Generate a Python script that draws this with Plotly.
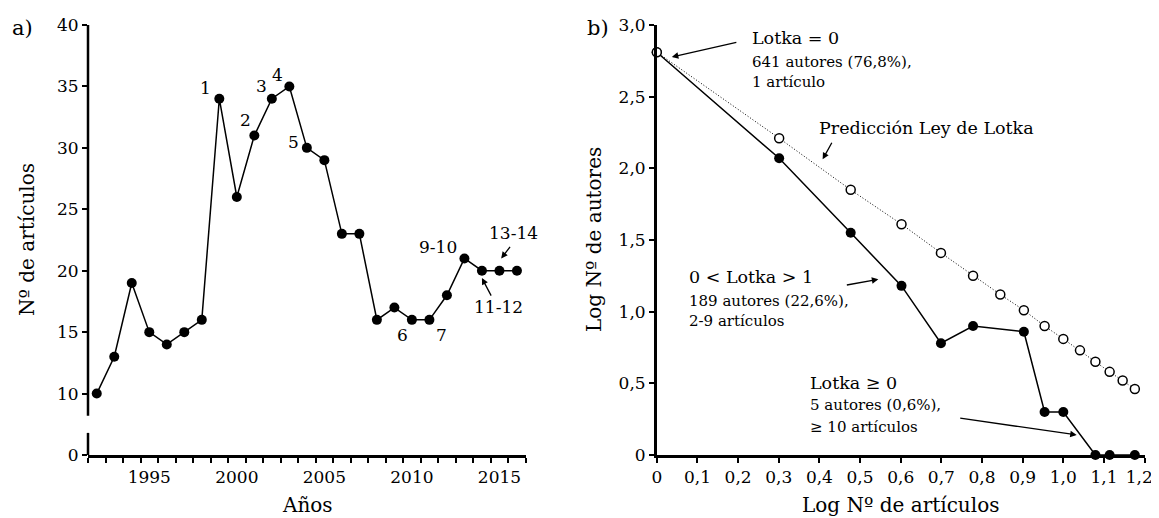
import plotly.graph_objects as go

# ---------------- data: panel a) ----------------
years = list(range(1992, 2017))
articles = [10, 13, 19, 15, 14, 15, 16, 34, 26, 31, 34, 35, 30, 29, 23, 23,
            16, 17, 16, 16, 18, 21, 20, 20, 20]
a_xticks = [1995, 2000, 2005, 2010, 2015]
a_yticks = [5, 10, 15, 20, 25, 30, 35, 40]
a_yticktext = ["0", "10", "15", "20", "25", "30", "35", "40"]

# labels of numbered points (text, x, y)
a_labels = [("1", 1998.2, 34.9), ("2", 2000.5, 32.3), ("3", 2001.4, 35.05),
            ("4", 2002.35, 35.95), ("5", 2003.25, 30.45), ("6", 2009.45, 14.8),
            ("7", 2011.7, 14.8), ("9-10", 2011.5, 21.95), ("13-14", 2015.8, 23.1),
            ("11-12", 2014.95, 17.05)]

# ---------------- data: panel b) ----------------
obs_logx = [0.0, 0.301, 0.477, 0.602, 0.699, 0.778, 0.903, 0.954, 1.0, 1.079, 1.114, 1.176]
obs_logy = [2.81, 2.07, 1.55, 1.18, 0.78, 0.90, 0.86, 0.30, 0.30, 0.0, 0.0, 0.0]
pred_logx = [0.0, 0.301, 0.477, 0.602, 0.699, 0.778, 0.845, 0.903, 0.954, 1.0,
             1.041, 1.079, 1.114, 1.146, 1.176]
pred_logy = [2.81, 2.21, 1.85, 1.61, 1.41, 1.25, 1.12, 1.01, 0.90, 0.81,
             0.73, 0.65, 0.58, 0.52, 0.46]
b_xticks = [0, 0.1, 0.2, 0.3, 0.4, 0.5, 0.6, 0.7, 0.8, 0.9, 1.0, 1.1, 1.2]
b_xticktext = ["0", "0,1", "0,2", "0,3", "0,4", "0,5", "0,6", "0,7", "0,8", "0,9", "1,0", "1,1",
               "1,2\u00a0\u00a0"]
b_yticks = [0, 0.5, 1.0, 1.5, 2.0, 2.5, 3.0]
b_yticktext = ["0", "0,5", "1,0", "1,5", "2,0", "2,5", "3,0"]

FONT = "DejaVu Serif"
OFF = 8  # page offset of the figure (body margin)
W, H = 1159 - OFF, 518 - OFF


def px(x):
    return (x - OFF) / W


def py(y):
    return 1 - (y - OFF) / H


fig = go.Figure()

fig.add_trace(go.Scatter(x=years, y=articles, mode="lines+markers",
                         line=dict(color="black", width=1.5),
                         marker=dict(color="black", size=10),
                         xaxis="x", yaxis="y", cliponaxis=False, showlegend=False))

fig.add_trace(go.Scatter(x=obs_logx, y=obs_logy, mode="lines+markers",
                         line=dict(color="black", width=1.5),
                         marker=dict(color="black", size=10),
                         xaxis="x2", yaxis="y2", cliponaxis=False, showlegend=False))
fig.add_trace(go.Scatter(x=pred_logx, y=pred_logy, mode="lines+markers",
                         line=dict(color="black", width=1, dash="1px,2px"),
                         marker=dict(color="white", size=9, line=dict(color="black", width=1.5)),
                         xaxis="x2", yaxis="y2", cliponaxis=False, showlegend=False))

tickfont = dict(family=FONT, size=17, color="black")

fig.update_layout(
    template="none",
    width=W, height=H, autosize=False,
    margin=dict(l=0, r=0, t=0, b=0, pad=0),
    paper_bgcolor="white", plot_bgcolor="white",
    showlegend=False,
    font=dict(family=FONT, color="black"),
    xaxis=dict(domain=[px(88), px(525.7)], range=[1991.5, 2016.5], automargin=False,
               tickvals=a_xticks, ticks="outside", ticklen=5, tickcolor="rgba(0,0,0,0)",
               minor=dict(tick0=1991.5, dtick=1, ticks="outside", ticklen=5,
                          tickwidth=2, tickcolor="black"),
               showline=True, linewidth=2.5, linecolor="black", ticklabeloverflow="allow",
               showgrid=False, zeroline=False, tickfont=tickfont, anchor="y"),
    yaxis=dict(domain=[py(455), py(25)], range=[5, 40], automargin=False,
               tickvals=a_yticks, ticktext=a_yticktext, ticklabeloverflow="allow",
               ticks="outside", ticklen=5, tickwidth=2, tickcolor="black",
               showline=False, showgrid=False, zeroline=False, tickfont=tickfont,
               anchor="x"),
    xaxis2=dict(domain=[px(656.8), px(1144.6)], range=[0, 1.2], automargin=False,
                tickvals=b_xticks, ticktext=b_xticktext, ticklabeloverflow="allow",
                ticks="outside", ticklen=5, tickwidth=2, tickcolor="black",
                showline=True, linewidth=2.5, linecolor="black",
                showgrid=False, zeroline=False, tickfont=tickfont, anchor="y2"),
    yaxis2=dict(domain=[py(455), py(25)], range=[0, 3.0], automargin=False,
                tickvals=b_yticks, ticktext=b_yticktext, ticklabeloverflow="allow",
                ticks="outside", ticklen=5, tickwidth=2, tickcolor="black",
                showline=True, linewidth=2.5, linecolor="black",
                showgrid=False, zeroline=False, tickfont=tickfont, anchor="x2"),
)

# broken y axis of panel a)
for y0, y1 in [(5, 6.8), (8.2, 40)]:
    fig.add_shape(type="line", xref="x domain", yref="y", x0=0, x1=0, y0=y0, y1=y1,
                  line=dict(color="black", width=2.5))

anns = []
for txt, x, y in a_labels:
    anns.append(dict(text=txt, x=x, y=y, xref="x", yref="y", showarrow=False,
                     font=dict(family=FONT, size=17), xanchor="center", yanchor="middle"))
# arrows panel a
anns.append(dict(text="", x=2015.1, y=21.0, xref="x", yref="y", ax=10, ay=-13,
                 showarrow=True, arrowhead=2, arrowsize=1, arrowwidth=1.3, arrowcolor="black"))
anns.append(dict(text="", x=2014.0, y=19.4, xref="x", yref="y", ax=10, ay=19,
                 showarrow=True, arrowhead=2, arrowsize=1, arrowwidth=1.3, arrowcolor="black"))

# panel b texts
def btxt(t, x, y, size):
    return dict(text=t, x=x, y=y, xref="x2", yref="y2", showarrow=False,
                font=dict(family=FONT, size=size), xanchor="left", yanchor="middle")

anns += [
    btxt("Lotka = 0", 0.229, 2.91, 17.5),
    btxt("641 autores (76,8%),", 0.229, 2.743, 15),
    btxt("1 artículo", 0.229, 2.603, 15),
    btxt("Predicción Ley de Lotka", 0.394, 2.282, 17.5),
    btxt("0 < Lotka > 1", 0.075, 1.244, 17.5),
    btxt("189 autores (22,6%),", 0.075, 1.077, 15),
    btxt("2-9 artículos", 0.075, 0.937, 15),
    btxt("Lotka ≥ 0", 0.371, 0.50, 17.5),
    btxt("5 autores (0,6%),", 0.371, 0.349, 15),
    btxt("≥ 10 artículos", 0.371, 0.197, 15),
]
for x, y, ax, ay in [(0.037, 2.777, 66, -15), (0.408, 2.063, 10, -18),
                     (0.545, 1.226, -33, 6), (1.033, 0.14, -118, -17)]:
    anns.append(dict(text="", x=x, y=y, xref="x2", yref="y2", ax=ax, ay=ay,
                     showarrow=True, arrowhead=2, arrowsize=1, arrowwidth=1.3,
                     arrowcolor="black"))

# panel letters and axis titles
anns += [
    dict(text="a)", x=px(22), y=py(28), xref="paper", yref="paper", showarrow=False,
         font=dict(family=FONT, size=21), xanchor="center", yanchor="middle"),
    dict(text="b)", x=px(598), y=py(28), xref="paper", yref="paper", showarrow=False,
         font=dict(family=FONT, size=21), xanchor="center", yanchor="middle"),
    dict(text="Nº de artículos", x=px(27), y=py(240), xref="paper", yref="paper",
         showarrow=False, textangle=-90, font=dict(family=FONT, size=20),
         xanchor="center", yanchor="middle"),
    dict(text="Log Nº de autores", x=px(594), y=py(240), xref="paper", yref="paper",
         showarrow=False, textangle=-90, font=dict(family=FONT, size=20),
         xanchor="center", yanchor="middle"),
    dict(text="Años", x=px(307), y=py(505), xref="paper", yref="paper", showarrow=False,
         font=dict(family=FONT, size=20), xanchor="center", yanchor="middle"),
    dict(text="Log Nº de artículos", x=px(900), y=py(505), xref="paper", yref="paper",
         showarrow=False, font=dict(family=FONT, size=20), xanchor="center", yanchor="middle"),
]
fig.update_layout(annotations=anns)

fig.write_html("out.html")
